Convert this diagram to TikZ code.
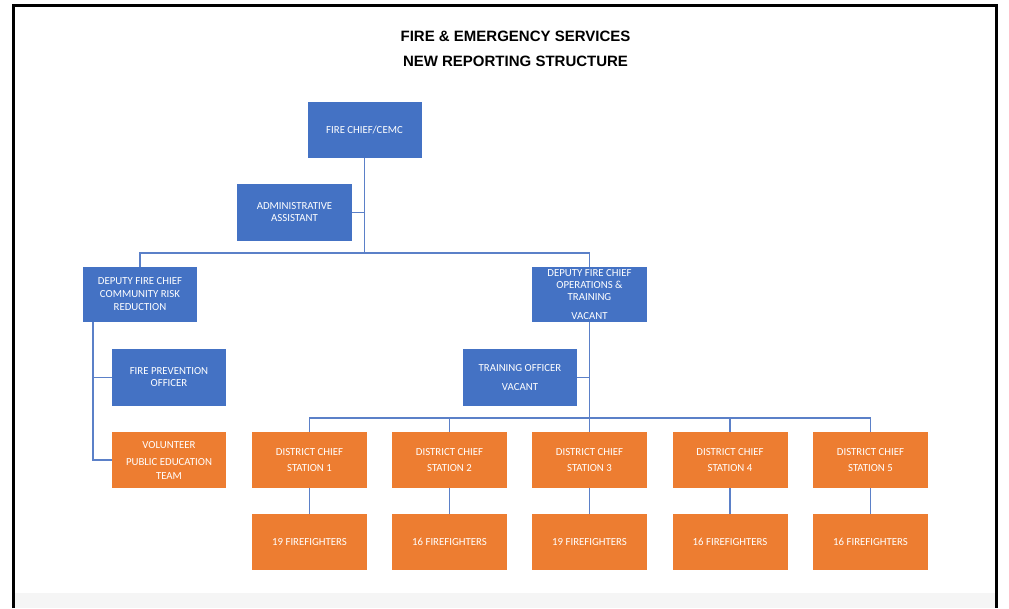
\documentclass[tikz,border=0pt]{standalone}
\usepackage{fontspec}
\setmainfont{Carlito}
\newfontfamily\titlefont{Liberation Sans}
\definecolor{boxblue}{HTML}{4472C4}
\definecolor{boxorange}{HTML}{ED7D31}
\definecolor{linkblue}{HTML}{5B80C8}
\begin{document}
\begin{tikzpicture}[x=1pt,y=-1pt,
  orgbox/.style={rectangle, minimum width=114pt, minimum height=56pt, inner sep=0pt,
    text=white, align=center, font=\fontsize{10.8}{12}\selectfont},
  bluebox/.style={orgbox, fill=boxblue},
  orangebox/.style={orgbox, fill=boxorange},
  link/.style={draw=linkblue, line width=1.4pt},
  titletext/.style={font=\titlefont\bfseries\fontsize{15}{18}\selectfont, text=black, inner sep=0pt}
]
\useasboundingbox (0,0) rectangle (1009,608);
\fill[white] (0,0) rectangle (1009,608);
\fill[black!4] (14,593) rectangle (995,608);
\draw[line width=3pt] (13,608) -- (13,5.5) -- (996,5.5) -- (996,608);

\node[titletext] (t1) at (515.5,36) {FIRE \& EMERGENCY SERVICES};
\node[titletext] (t2) at (515.5,61.5) {NEW REPORTING STRUCTURE};

\node[bluebox] (chief) at (364.5,130) {FIRE CHIEF/CEMC};
\node[bluebox, minimum width=115pt, minimum height=57pt] (admin) at (294.5,212.5) {ADMINISTRATIVE\\ASSISTANT};
\node[bluebox, minimum height=55pt] (dcrr) at (140,294.5) {DEPUTY FIRE CHIEF\\[1pt]COMMUNITY RISK\\[1pt]REDUCTION};
\node[bluebox, minimum width=115pt, minimum height=55pt] (dops) at (589.5,294.5) {DEPUTY FIRE CHIEF\\OPERATIONS \&\\TRAINING\\[7pt]VACANT};
\node[bluebox, minimum height=57pt] (fpo) at (169,377.5) {FIRE PREVENTION\\OFFICER};
\node[orangebox] (vol) at (169,460) {VOLUNTEER\\[5pt]PUBLIC EDUCATION\\[2pt]TEAM};
\node[bluebox, minimum height=57pt] (tro) at (520,377.5) {TRAINING OFFICER\\[7pt]VACANT};

\node[orangebox, minimum width=115pt] (s1) at (309.5,460) {DISTRICT CHIEF\\[4pt]STATION 1};
\node[orangebox, minimum width=115pt] (s2) at (449.5,460) {DISTRICT CHIEF\\[4pt]STATION 2};
\node[orangebox, minimum width=115pt] (s3) at (589.5,460) {DISTRICT CHIEF\\[4pt]STATION 3};
\node[orangebox, minimum width=115pt] (s4) at (730,460) {DISTRICT CHIEF\\[4pt]STATION 4};
\node[orangebox, minimum width=115pt] (s5) at (870.5,460) {DISTRICT CHIEF\\[4pt]STATION 5};

\node[orangebox, minimum width=115pt] (f1) at (309.5,542) {19 FIREFIGHTERS};
\node[orangebox, minimum width=115pt] (f2) at (449.5,542) {16 FIREFIGHTERS};
\node[orangebox, minimum width=115pt] (f3) at (589.5,542) {19 FIREFIGHTERS};
\node[orangebox, minimum width=115pt] (f4) at (730,542) {16 FIREFIGHTERS};
\node[orangebox, minimum width=115pt] (f5) at (870.5,542) {16 FIREFIGHTERS};

\coordinate (bar1) at (364.5,253);
\coordinate (bar2) at (589.5,418);
\coordinate (crr) at (93,322);

\draw[link] (chief.south) -- (bar1);
\draw[link] (admin.east) -- (admin.east -| chief.south);
\draw[link] (dcrr.north) |- (bar1) -| (dops.north);
\draw[link] (crr) |- (vol.west);
\draw[link] (fpo.west) -- (fpo.west -| crr);
\draw[link] (dops.south) -- (bar2);
\draw[link] (tro.east) -- (tro.east -| dops.south);
\draw[link] (s1.north) |- (bar2) -| (s5.north);
\draw[link] (s2.north) -- (s2.north |- bar2);
\draw[link] (s3.north) -- (bar2);
\draw[link] (s4.north) -- (s4.north |- bar2);
\foreach \i in {1,...,5} { \draw[link] (s\i.south) -- (f\i.north); }
\end{tikzpicture}
\end{document}
